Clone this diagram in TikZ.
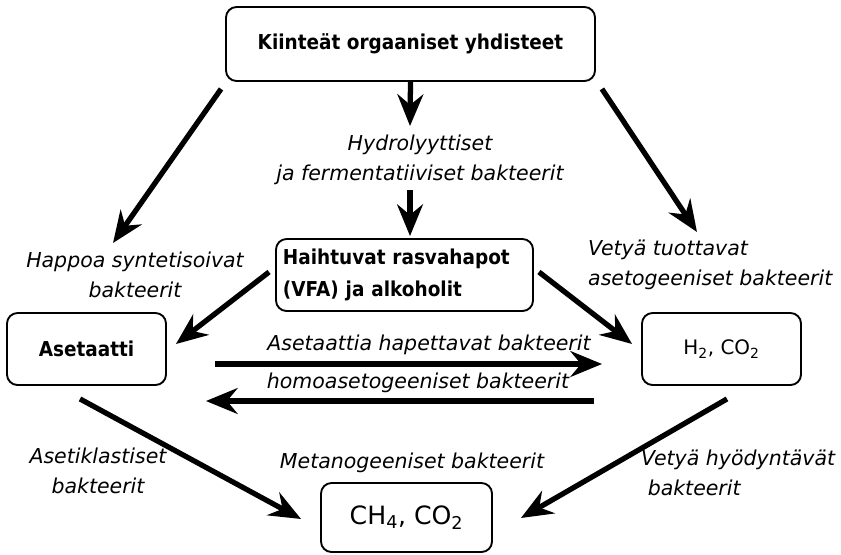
\documentclass[tikz,border=0pt]{standalone}
\usepackage{fontspec}
\setmainfont{DejaVu Sans}[BoldFeatures={FakeStretch=0.9}]
\usetikzlibrary{arrows.meta}
\begin{document}
\begin{tikzpicture}[x=0.03cm,y=-0.03cm,
	box/.style={draw,line width=1.6pt,rounded corners=9pt,inner sep=0pt,font=\bfseries\fontsize{17.5}{27}\selectfont},
	lbl/.style={inner sep=0pt,align=center,font=\itshape\fontsize{17.5}{25.5}\selectfont},
	flow/.style={line width=4.5pt,-{Stealth[length=27pt,width=22pt,inset=9pt]}}]
	\useasboundingbox (0,0) rectangle (841,554);

	\node[box,minimum width=11.07cm,minimum height=2.22cm] (top) at (410.5,44) {Kiinteät orgaaniset yhdisteet};
	\node[box,minimum width=7.71cm,minimum height=2.16cm,text width=7.29cm,align=left,inner xsep=0.21cm] (vfa) at (404.5,275) {Haihtuvat rasvahapot\\(VFA) ja alkoholit};
	\node[box,minimum width=4.77cm,minimum height=2.16cm] (aset) at (86.5,349) {Asetaatti};
	\node[box,minimum width=4.77cm,minimum height=2.16cm,font=\fontsize{17}{20}\selectfont] (hco) at (721.5,349) {H\textsubscript{2}, CO\textsubscript{2}};
	\node[box,minimum width=5.13cm,minimum height=2.07cm,font=\fontsize{21.5}{24}\selectfont] (ch4) at (406.5,517.5) {CH\textsubscript{4}, CO\textsubscript{2}};

	\node[lbl] (hydro) at (420,160) {Hydrolyyttiset\\ja fermentatiiviset bakteerit};
	\node[lbl] (happoa) at (135,275) {Happoa syntetisoivat\\bakteerit};
	\node[lbl,anchor=west,align=left] (vetya) at (588,265) {Vetyä tuottavat\\asetogeeniset bakteerit};
	\node[lbl] (hapettavat) at (429,345) {Asetaattia hapettavat bakteerit};
	\node[lbl] (homo) at (418,383) {homoasetogeeniset bakteerit};
	\node[lbl] (asetikl) at (98,471) {Asetiklastiset\\bakteerit};
	\node[lbl] (metano) at (412,463) {Metanogeeniset bakteerit};
	\node[lbl,anchor=west,align=left] (hyod) at (641,473) {Vetyä hyödyntävät\\\ bakteerit};

	\draw[flow] (top.south) -- ([shift={(-10,-34)}]hydro.center);
	\draw[flow] ([shift={(-10,30)}]hydro.center) -- ([shift={(5.5,-2)}]vfa.north);
	\draw[flow] ([shift={(-4,7)}]top.south west) -- ([shift={(-22,-32)}]happoa.center);
	\draw[flow] ([shift={(6,7)}]top.south east) -- ([shift={(109,-33)}]vetya.west);
	\draw[flow] ([shift={(-6,-3)}]vfa.west) -- ([shift={(9,-5)}]aset.east);
	\draw[flow] ([shift={(5,-3)}]vfa.east) -- ([shift={(-9,-5)}]hco.west);
	\draw[flow] ([shift={(48,15)}]aset.east) -- ([shift={(-39,15)}]hco.west);
	\draw[flow] ([shift={(-47,52)}]hco.west) -- ([shift={(39,52)}]aset.east);
	\draw[flow] ([shift={(-6.5,13)}]aset.south) -- ([shift={(-19,1.5)}]ch4.west);
	\draw[flow] ([shift={(5.5,13)}]hco.south) -- ([shift={(28,0.5)}]ch4.east);
\end{tikzpicture}
\end{document}
